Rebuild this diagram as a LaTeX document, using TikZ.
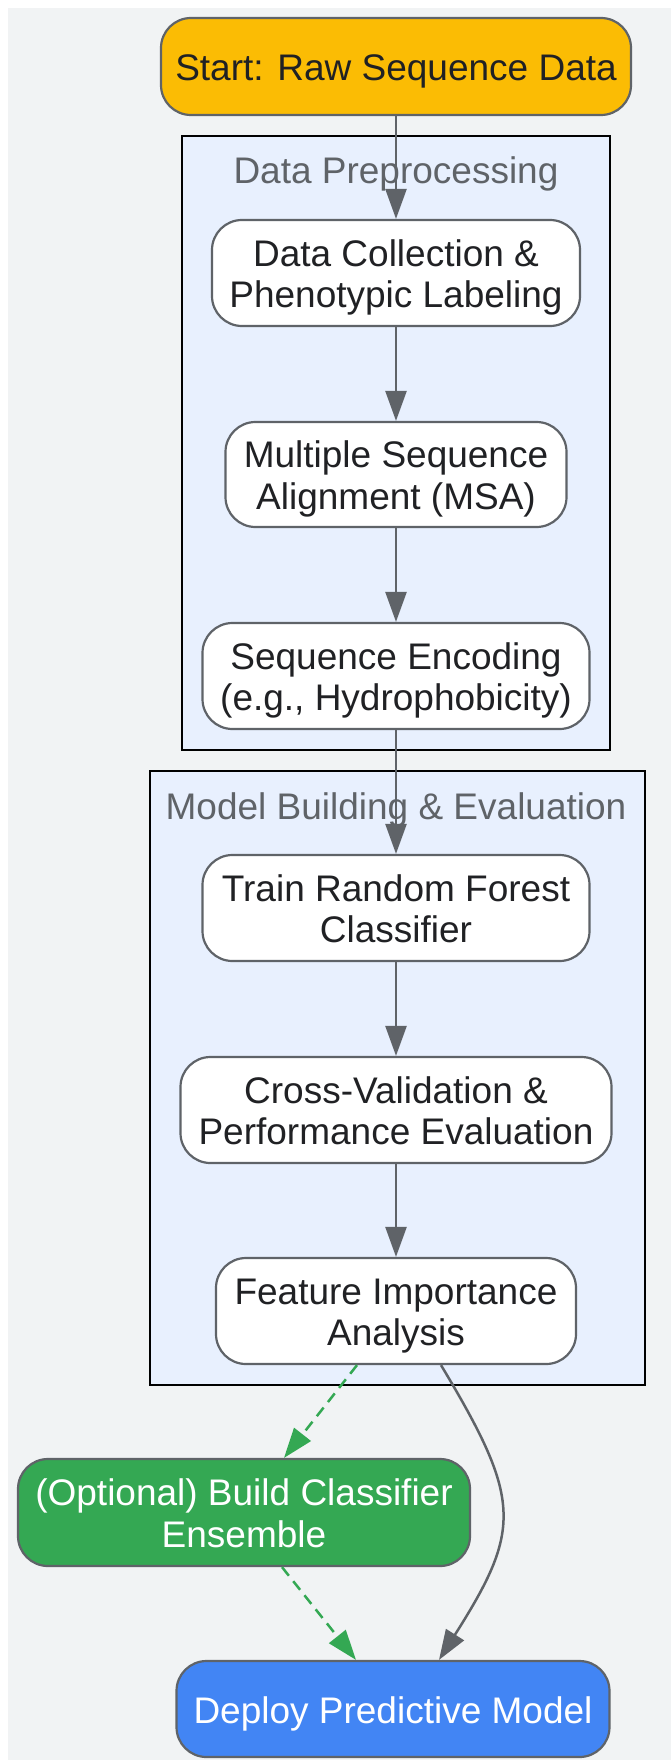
\documentclass[tikz,border=0pt]{standalone}
\usepackage{fontspec}
\setmainfont{Liberation Sans}
\usetikzlibrary{arrows.meta,calc}
\definecolor{bgc}{HTML}{F1F3F4}
\definecolor{clfill}{HTML}{E8F0FE}
\definecolor{edgec}{HTML}{5F6368}
\definecolor{txtc}{HTML}{202124}
\definecolor{yel}{HTML}{FBBC04}
\definecolor{grn}{HTML}{34A853}
\definecolor{blu}{HTML}{4285F4}
\newcommand\ftop{\rule{0pt}{37pt}}
\newcommand\fbot{\rule[-9pt]{0pt}{9pt}}
\tikzset{
  box/.style={draw=edgec, line width=2.2pt, rounded corners=30pt, align=center,
    text=txtc, fill=white, inner sep=0pt,
    font=\fontsize{37}{41.5}\selectfont},
  cluster/.style={draw=black, line width=2pt, fill=clfill},
  cltitle/.style={text=edgec, font=\fontsize{37}{41.5}\selectfont, inner sep=0pt},
  flow/.style={draw=edgec, line width=2.5pt, -{Triangle[length=30pt,width=21pt]}},
  opt/.style={draw=grn, line width=2.5pt, dash pattern=on 11pt off 7pt, -{Triangle[length=30pt,width=21pt]}},
}
\begin{document}
\begin{tikzpicture}[x=1pt,y=-1pt]
\useasboundingbox (0,0) rectangle (671,1760);
\fill[bgc] (8,8) rectangle (671,1760);
% clusters
\draw[cluster] (182,136) rectangle (610,750);
\node[cltitle] (t1) at (396,174) {Data Preprocessing};
\draw[cluster] (150,771) rectangle (645,1385);
\node[cltitle] (t2) at (396,810) {Model Building \& Evaluation};
% nodes
\node[box, fill=yel, minimum width=470pt, minimum height=97pt] (start) at (396,66.5) {\ftop Start: Raw Sequence Data\fbot};
\node[box, minimum width=368pt, minimum height=106pt] (dc) at (396,273) {\ftop Data Collection \&\\Phenotypic Labeling\fbot};
\node[box, minimum width=341pt, minimum height=105pt] (msa) at (396,474.5) {\ftop Multiple Sequence\\Alignment (MSA)\fbot};
\node[box, minimum width=387pt, minimum height=106pt] (enc) at (396,676) {\ftop Sequence Encoding\\(e.g., Hydrophobicity)\fbot};
\node[box, minimum width=387pt, minimum height=106pt] (rf) at (396,908) {\ftop Train Random Forest\\Classifier\fbot};
\node[box, minimum width=431pt, minimum height=106pt] (cv) at (396,1110) {\ftop Cross-Validation \&\\Performance Evaluation\fbot};
\node[box, minimum width=360pt, minimum height=106pt] (fi) at (396,1311) {\ftop Feature Importance\\Analysis\fbot};
\node[box, fill=grn, text=white, minimum width=452pt, minimum height=107pt] (ens) at (244,1512.5) {\ftop (Optional) Build Classifier\\Ensemble\fbot};
\node[box, fill=blu, text=white, minimum width=433pt, minimum height=96pt] (dep) at (393,1709) {\ftop Deploy Predictive Model\fbot};
% connectors
\draw[flow] (start) -- (dc);
\draw[flow] (dc) -- (msa);
\draw[flow] (msa) -- (enc);
\draw[flow] (enc) -- (rf);
\draw[flow] (rf) -- (cv);
\draw[flow] (cv) -- (fi);
\draw[opt] ([xshift=-39pt]fi.south) -- ([xshift=40pt]ens.north);
\draw[opt] ([xshift=38pt]ens.south) -- ([xshift=-37pt]dep.north);
\draw[flow] ([xshift=45pt]fi.south) .. controls ($(fi.south)+(126,135)$) and ($(dep.north)+(129,-131)$) .. ([xshift=46pt]dep.north);
\end{tikzpicture}
\end{document}
